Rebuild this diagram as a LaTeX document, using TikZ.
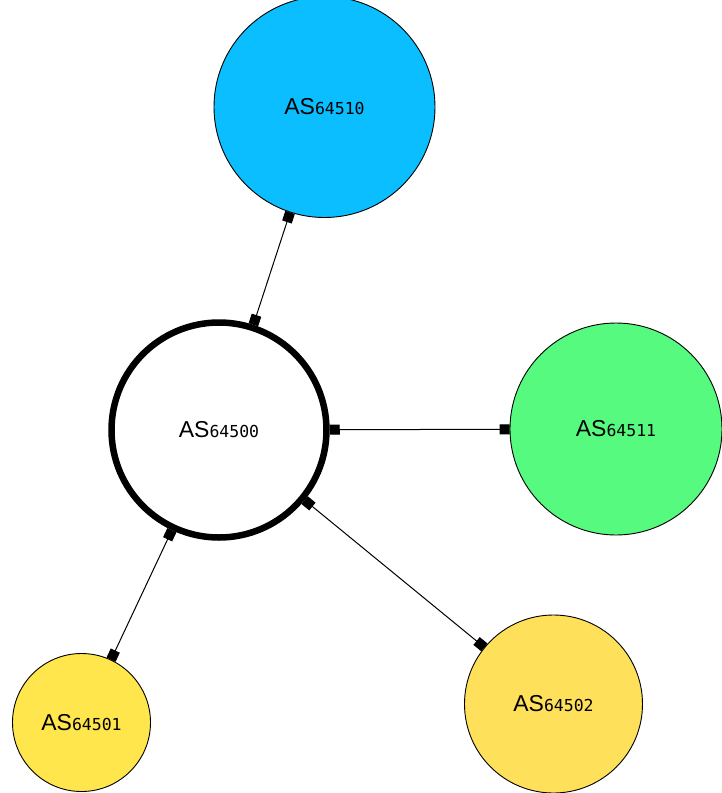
\documentclass[tikz,border=0pt]{standalone}
\usepackage{fontspec}
\usetikzlibrary{arrows.meta}
\newfontfamily\labfont{Liberation Sans}
\newfontfamily\monofont{DejaVu Sans Mono}
\definecolor{asblue}{HTML}{0ABEFF}
\definecolor{asgreen}{HTML}{55FA7F}
\definecolor{asyellowa}{HTML}{FFE64C}
\definecolor{asyellowb}{HTML}{FFE05B}
\newcommand{\aslabel}[1]{{\labfont\fontsize{23}{23}\selectfont AS}{\monofont\fontsize{16.5}{16.5}\selectfont #1}}
\begin{document}
\begin{tikzpicture}[x=1pt,y=-1pt,
  asnode/.style={circle,draw=black,line width=0.9pt,inner sep=0pt,align=center},
  hub/.style={circle,draw=black,fill=white,line width=6.5pt,inner sep=0pt},
  conn/.style={line width=1pt,{Square[length=10pt,width=10pt]}-{Square[length=10pt,width=10pt]}}]
\useasboundingbox[fill=white] (0,0) rectangle (722,793);
\node[hub,minimum size=215pt] (c) at (219,430) {\aslabel{64500}};
\node[asnode,fill=asblue,minimum size=221pt] (b) at (324.5,107) {\aslabel{64510}};
\node[asnode,fill=asgreen,minimum size=212pt] (g) at (616,429) {\aslabel{64511}};
\node[asnode,fill=asyellowa,minimum size=138pt] (ya) at (81.5,722.5) {\aslabel{64501}};
\node[asnode,fill=asyellowb,minimum size=178pt] (yb) at (553.5,704) {\aslabel{64502}};
\draw[conn] (c) -- (b);
\draw[conn] (c) -- (g);
\draw[conn] (c) -- (ya);
\draw[conn] (c) -- (yb);
\end{tikzpicture}
\end{document}
